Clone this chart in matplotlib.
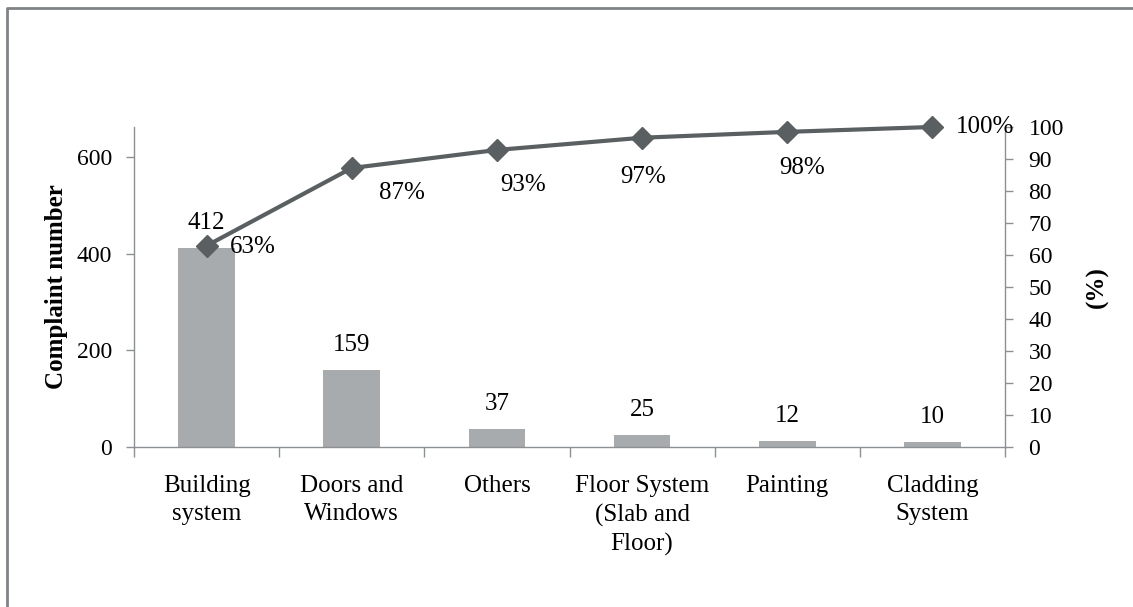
import numpy as np
import matplotlib.pyplot as plt
from matplotlib.lines import Line2D

categories = ["Building\nsystem", "Doors and\nWindows", "Others",
              "Floor System\n(Slab and\nFloor)", "Painting", "Cladding\nSystem"]
counts = [412, 159, 37, 25, 12, 10]

cum_pct = np.cumsum(counts) / np.sum(counts) * 100
pct_labels = [f"{round(p)}%" for p in cum_pct]
# offsets (points) of the % labels from their markers
pct_offsets = [(17, -1), (36, -18), (19, -25), (1, -28), (11, -26), (17, 0)]
pct_ha = ["left", "center", "center", "center", "center", "left"]

plt.rcParams["font.family"] = ["Liberation Serif", "DejaVu Serif"]
plt.rcParams["font.size"] = 17

bar_color = "#a7abae"
line_color = "#5a5f62"
spine_color = "#8c9093"

fig = plt.figure(figsize=(11.33, 6.07), dpi=100)
ax = fig.add_axes([0.1183, 0.2636, 0.7687, 0.5272])
ax2 = ax.twinx()

x = np.arange(len(counts))
ax.bar(x, counts, width=0.39, color=bar_color, zorder=2)
for xi, c in zip(x, counts):
    ax.annotate(str(c), (xi, c), xytext=(0, 18), textcoords="offset points",
                ha="center", va="center", fontsize=18)

ax.set_xlim(-0.5, len(counts) - 0.5)
ax.set_ylim(0, 663)
ax.set_yticks([0, 200, 400, 600])
ax.set_xticks(np.arange(-0.5, len(counts), 1.0))
ax.set_xticklabels([])
ax.set_xticks(x, minor=True)
ax.set_xticklabels(categories, minor=True, linespacing=1.38, va="top", fontsize=18)
ax.tick_params(axis="x", which="major", length=7, width=1, color=spine_color, direction="out")
ax.tick_params(axis="x", which="minor", length=0, pad=20)
ax.tick_params(axis="y", length=6, width=1, color=spine_color, pad=10)
ax.set_ylabel("Complaint number", fontweight="bold", fontsize=18, labelpad=6)

ax2.plot(x, cum_pct, color=line_color, lw=3, marker="D", markersize=11,
         zorder=3, clip_on=False)
for xi, p, lab, off, ha in zip(x, cum_pct, pct_labels, pct_offsets, pct_ha):
    ax2.annotate(lab, (xi, p), xytext=off, textcoords="offset points",
                 ha=ha, va="center", fontsize=18)
ax2.set_ylim(0, 100)
ax2.set_yticks(np.arange(0, 101, 10))
ax2.tick_params(axis="y", length=6, width=1, color=spine_color, pad=11)
ax2.set_ylabel("(%)", fontweight="bold", fontsize=18, labelpad=16)

for a in (ax, ax2):
    a.spines["top"].set_visible(False)
    for s in ("left", "right", "bottom"):
        a.spines[s].set_color(spine_color)
        a.spines[s].set_linewidth(1)
ax.spines["right"].set_visible(False)
ax2.spines["left"].set_visible(False)
ax2.spines["bottom"].set_visible(False)

# outer frame
fig.add_artist(Line2D([0.0066, 0.0066, 1.0], [0.0, 0.9876, 0.9876],
                      transform=fig.transFigure, color="#7f8385", lw=2))

fig.savefig("out.png", dpi=100)
